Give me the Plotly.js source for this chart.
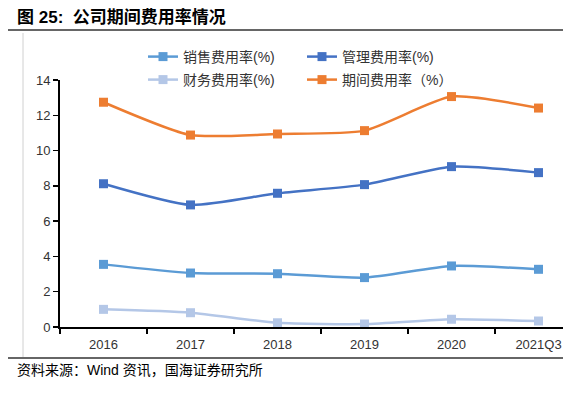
<!DOCTYPE html>
<html>
<head>
<meta charset="utf-8">
<script src="https://cdn.plot.ly/plotly-3.0.1.min.js"></script>
<style>html,body{margin:0;padding:0;background:#fff;}#chart{width:563px;height:393px;}</style>
</head>
<body>
<div id="chart"></div>
<script>
const categories = ['2016', '2017', '2018', '2019', '2020', '2021Q3'];
const salesRate = [3.55, 3.06, 3.02, 2.80, 3.46, 3.27];
const adminRate = [8.12, 6.92, 7.58, 8.07, 9.09, 8.75];
const financeRate = [1.00, 0.81, 0.24, 0.17, 0.44, 0.34];
const periodRate = [12.74, 10.88, 10.94, 11.13, 13.06, 12.41];
const seriesNames = ['销售费用率(%)', '管理费用率(%)', '财务费用率(%)', '期间费用率（%）'];
const titleText = '<b>图 25:  公司期间费用率情况</b>';
const sourceText = '资料来源：Wind 资讯，国海证券研究所';

const W = 563, H = 393;
const L = 60, R = 563, T = 80, B = 327;
const px = x => (x - L) / (R - L);
const py = y => (B - y) / (B - T);

const cjk = '"Liberation Sans", Arial, "Noto Sans CJK SC", sans-serif';
function tr(y, name, color, legend) {
  return {
    x: categories, y: y, name: name, type: 'scatter', mode: 'lines+markers',
    line: {color: color, width: 2.5, shape: 'spline', smoothing: 0.6},
    marker: {symbol: 'square', size: 9, color: color},
    legend: legend, cliponaxis: false
  };
}
const data = [
  tr(salesRate, seriesNames[0], '#5B9BD5', 'legend'),
  tr(adminRate, seriesNames[1], '#4472C4', 'legend'),
  tr(financeRate, seriesNames[2], '#B4C7E7', 'legend2'),
  tr(periodRate, seriesNames[3], '#ED7D31', 'legend2')
];
const legBase = {
  orientation: 'h', xanchor: 'left', yanchor: 'middle', bgcolor: 'rgba(0,0,0,0)',
  font: {family: cjk, size: 14, color: '#333'}, entrywidth: 114, entrywidthmode: 'pixels',
  itemwidth: 30, itemclick: false
};
const layout = {
  width: W, height: H,
  margin: {l: L, r: W - R, t: T, b: H - B, pad: 0},
  paper_bgcolor: '#fff', plot_bgcolor: '#fff',
  font: {family: cjk, color: '#333'},
  showlegend: true,
  legend: Object.assign({}, legBase, {x: px(143), y: py(57)}),
  legend2: Object.assign({}, legBase, {x: px(143), y: py(80)}),
  xaxis: {
    type: 'category', range: [-0.5, -0.5 + (R - L) / 87],
    showline: true, linecolor: '#000', linewidth: 2,
    ticks: 'outside', ticklen: 5, tickcolor: '#000', tickwidth: 1.5, tickson: 'boundaries',
    showgrid: false, zeroline: false, ticklabelstandoff: 4,
    tickfont: {family: '"Liberation Sans", Arial, sans-serif', size: 13, color: '#333'}
  },
  yaxis: {
    range: [0, 14], dtick: 2, tick0: 0,
    showline: true, linecolor: '#000', linewidth: 2,
    ticks: 'outside', ticklen: 5, tickcolor: '#000', tickwidth: 1.5,
    showgrid: false, zeroline: false,
    tickfont: {family: '"Liberation Sans", Arial, sans-serif', size: 13, color: '#333'}
  },
  annotations: [
    {text: titleText, xref: 'paper', yref: 'paper', x: px(15), y: py(17), xanchor: 'left', yanchor: 'middle',
     showarrow: false, font: {family: '"Liberation Sans", Arial, "Noto Sans CJK SC", sans-serif', size: 17, color: '#000'}},
    {text: sourceText, xref: 'paper', yref: 'paper', x: px(15), y: py(370), xanchor: 'left', yanchor: 'middle',
     showarrow: false, font: {family: cjk, size: 14, color: '#000'}}
  ],
  shapes: [
    {type: 'line', xref: 'paper', yref: 'paper', x0: px(8), x1: px(563), y0: py(30), y1: py(30), line: {color: '#333', width: 1.5}},
    {type: 'line', xref: 'paper', yref: 'paper', x0: px(8), x1: px(563), y0: py(358), y1: py(358), line: {color: '#333', width: 1.5}},
    {type: 'line', xref: 'paper', yref: 'paper', x0: px(23), x1: px(23), y0: py(33), y1: py(357), line: {color: '#d0d0d0', width: 1}}
  ]
};
Plotly.newPlot('chart', data, layout, {displayModeBar: false, staticPlot: true});
</script>
</body>
</html>
